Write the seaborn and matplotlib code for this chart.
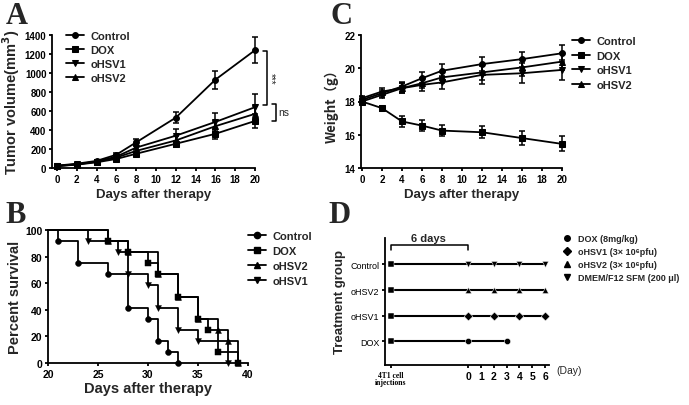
import numpy as np
import pandas as pd
import matplotlib
matplotlib.use('Agg')
import matplotlib.pyplot as plt
from matplotlib.lines import Line2D
import seaborn as sns

# ---- A: tumor volume ----
days = [0, 2, 4, 6, 8, 12, 16, 20]
vol_control = [25, 45, 75, 140, 270, 530, 930, 1240]
vol_dox = [20, 35, 60, 95, 150, 255, 360, 495]
vol_ohsv1 = [22, 40, 68, 120, 215, 340, 485, 640]
vol_ohsv2 = [20, 38, 65, 110, 180, 290, 440, 570]
sem_control = [5, 8, 10, 20, 35, 55, 95, 135]
sem_dox = [5, 6, 8, 12, 20, 30, 50, 75]
sem_ohsv1 = [5, 6, 8, 15, 30, 70, 90, 135]
sem_ohsv2 = [5, 6, 8, 12, 25, 45, 60, 80]

# ---- C: body weight ----
wt_control = [18.1, 18.5, 18.9, 19.4, 19.85, 20.25, 20.55, 20.9]
wt_dox = [18.0, 17.6, 16.8, 16.55, 16.25, 16.15, 15.8, 15.45]
wt_ohsv1 = [18.0, 18.4, 18.8, 19.0, 19.15, 19.6, 19.7, 19.9]
wt_ohsv2 = [18.2, 18.6, 18.8, 19.1, 19.45, 19.75, 20.05, 20.4]
wsem_control = [0.15, 0.2, 0.3, 0.35, 0.4, 0.4, 0.45, 0.5]
wsem_dox = [0.15, 0.15, 0.35, 0.35, 0.35, 0.35, 0.4, 0.45]
wsem_ohsv1 = [0.15, 0.2, 0.3, 0.35, 0.4, 0.55, 0.6, 0.6]
wsem_ohsv2 = [0.15, 0.2, 0.3, 0.3, 0.35, 0.45, 0.5, 0.5]

# ---- B: survival (Kaplan-Meier steps) ----
sd_control = [20, 21, 23, 26, 28, 30, 31, 32, 33]
sv_control = [100, 91.7, 75, 66.7, 41.7, 33.3, 16.7, 8.3, 0]
sd_dox = [20, 26, 28, 30, 31, 33, 35, 36, 37, 39]
sv_dox = [100, 91.7, 83.3, 75, 66.7, 50, 33.3, 25, 8.3, 0]
sd_ohsv2 = [20, 26, 28, 31, 33, 35, 37, 38, 39]
sv_ohsv2 = [100, 91.7, 83.3, 66.7, 50, 33.3, 25, 16.7, 0]
sd_ohsv1 = [20, 24, 27, 28, 30, 31, 33, 35, 38]
sv_ohsv1 = [100, 91.7, 83.3, 66.7, 58.3, 41.7, 25, 16.7, 0]

# ---- D: treatment schedule ----
d_groups = ['DOX', 'oHSV1', 'oHSV2', 'Control']
d_inject = -6
d_end = [3, 6, 6, 6]
d_treat = [[0, 3], [0, 2, 4, 6], [0, 2, 4, 6], [0, 2, 4, 6]]
d_labels = ['DOX (8mg/kg)', 'oHSV1 (3× 10⁶pfu)', 'oHSV2 (3× 10⁶pfu)',
            'DMEM/F12 SFM (200 μl)']

groups = ['Control', 'DOX', 'oHSV1', 'oHSV2']
mk = {'Control': 'o', 'DOX': 's', 'oHSV1': 'v', 'oHSV2': '^'}
d_mk = {'DOX': 'o', 'oHSV1': 'D', 'oHSV2': '^', 'Control': 'v'}

sns.set_theme(style='ticks')
plt.rcParams['font.family'] = ['Liberation Sans', 'DejaVu Sans']
plt.rcParams['font.weight'] = 'bold'
plt.rcParams['axes.labelweight'] = 'bold'
plt.rcParams['axes.linewidth'] = 1.3
for a in ['xtick', 'ytick']:
    plt.rcParams[a + '.major.width'] = 1.3
    plt.rcParams[a + '.major.size'] = 2.5
    plt.rcParams[a + '.major.pad'] = 1.5
    plt.rcParams[a + '.color'] = 'black'
    plt.rcParams[a + '.labelsize'] = 7
plt.rcParams['axes.edgecolor'] = 'black'

W, H = 689, 406
fig = plt.figure(figsize=(W / 100, H / 100), dpi=100)


def px_axes(l, t, r, b):
    return fig.add_axes([l / W, 1 - b / H, (r - l) / W, (b - t) / H])


def growth_panel(ax, vals, sems):
    df = pd.DataFrame({'day': days * 4,
                       'val': sum(vals, []),
                       'group': np.repeat(groups, len(days))})
    sns.lineplot(data=df, x='day', y='val', style='group', markers=mk, dashes=False,
                 color='black', linewidth=1.3, markersize=4.2, markeredgecolor='black',
                 ax=ax, clip_on=False, zorder=3)
    for v, e in zip(vals, sems):
        ax.errorbar(days, v, yerr=e, fmt='none', ecolor='black', elinewidth=1.1,
                    capsize=2.5, capthick=1.1, clip_on=False, zorder=2)
    sns.despine(ax=ax)
    ax.set_xticks(range(0, 21, 2))
    ax.set_xlabel('Days after therapy', fontsize=9.5, labelpad=3)


# Panel A
axA = px_axes(52, 36, 255, 169)
growth_panel(axA, [vol_control, vol_dox, vol_ohsv1, vol_ohsv2],
             [sem_control, sem_dox, sem_ohsv1, sem_ohsv2])
axA.set_xlim(-0.5, 20)
axA.set_ylim(0, 1400)
axA.set_yticks(range(0, 1401, 200))
axA.set_ylabel('Tumor volume(mm$^3$)', fontsize=10.5, labelpad=2)
h, l = axA.get_legend_handles_labels()
axA.legend(h, l, loc='upper left', bbox_to_anchor=(0.07, 1.03), frameon=False,
           fontsize=8, handlelength=1.6, handletextpad=0.6, labelspacing=0.35,
           borderpad=0, borderaxespad=0)
# significance brackets
axA.plot([20.8, 21.2, 21.2, 20.8], [1235, 1235, 660, 660], color='black', lw=1.1, clip_on=False)
axA.text(21.6, 950, '***', rotation=270, ha='center', va='center', fontsize=7, fontweight='normal')
axA.plot([21.75, 22.15, 22.15, 21.75], [675, 675, 495, 495], color='black', lw=1.1, clip_on=False)
axA.text(22.4, 590, 'ns', ha='left', va='center', fontsize=7.5, fontweight='normal')

# Panel C
axC = px_axes(361, 36, 562, 169)
growth_panel(axC, [wt_control, wt_dox, wt_ohsv1, wt_ohsv2],
             [wsem_control, wsem_dox, wsem_ohsv1, wsem_ohsv2])
axC.set_xlim(-0.1, 20)
axC.set_ylim(14, 22)
axC.set_yticks(range(14, 23, 2))
axC.set_ylabel('Weight（g）', fontsize=9.5, labelpad=4,
               family=['Noto Sans CJK SC', 'Liberation Sans'])
h, l = axC.get_legend_handles_labels()
axC.legend(h, l, loc='upper left', bbox_to_anchor=(1.05, 0.99), frameon=False,
           fontsize=8, handlelength=1.6, handletextpad=0.6, labelspacing=0.4,
           borderpad=0, borderaxespad=0)

# Panel B
axB = px_axes(48, 231, 248, 364)
surv = [('Control', sd_control, sv_control), ('DOX', sd_dox, sv_dox),
        ('oHSV2', sd_ohsv2, sv_ohsv2), ('oHSV1', sd_ohsv1, sv_ohsv1)]
for name, sd, sv in surv:
    sns.lineplot(x=sd, y=sv, drawstyle='steps-post', color='black', linewidth=1.3,
                 ax=axB, clip_on=False, estimator=None)
    sns.scatterplot(x=sd[1:], y=sv[1:], marker=mk[name], color='black', s=18,
                    edgecolor='black', ax=axB, clip_on=False, zorder=3)
sns.despine(ax=axB)
axB.set_xlim(20, 40)
axB.set_ylim(0, 100)
axB.set_xticks(range(20, 41, 5))
axB.set_yticks(range(0, 101, 20))
axB.tick_params(labelsize=7.5)
axB.set_xlabel('Days after therapy', fontsize=10.5, labelpad=2)
axB.set_ylabel('Percent survival', fontsize=10.5, labelpad=2)
handlesB = [Line2D([], [], color='black', lw=1.3, marker=mk[n], markersize=4.5)
            for n, _, _ in surv]
axB.legend(handlesB, [n for n, _, _ in surv], loc='upper left', bbox_to_anchor=(1.0, 0.99),
           frameon=False, fontsize=8, handlelength=1.6, handletextpad=0.6,
           labelspacing=0.45, borderpad=0, borderaxespad=0)

# Panel D
axD = px_axes(385, 239, 549, 366)
for i, g in enumerate(d_groups):
    sns.lineplot(x=[d_inject, d_end[i]], y=[i, i], color='black', linewidth=1.5, ax=axD)
    sns.scatterplot(x=[d_inject], y=[i], marker='s', color='black', s=18, ax=axD, zorder=3)
    sns.scatterplot(x=d_treat[i], y=[i] * len(d_treat[i]), marker=d_mk[g], color='black',
                    s=20, ax=axD, zorder=3, clip_on=False)
sns.despine(ax=axD)
axD.set_xlim(-6.47, 6.31)
axD.set_ylim(-0.92, 4.03)
axD.set_yticks(range(len(d_groups)))
axD.set_yticklabels(d_groups, fontsize=6.5, fontweight='normal')
axD.set_xticks([d_inject] + list(range(0, 7)))
axD.set_xticklabels(['4T1 cell\ninjections'] + [str(d) for d in range(7)], fontsize=7.5)
axD.get_xticklabels()[0].set(family='Liberation Serif', fontsize=5.5, linespacing=0.9)
axD.set_ylabel('Treatment group', fontsize=9.5, labelpad=3)
axD.text(6.9, -0.92, '(Day)', ha='left', va='top', fontsize=7.5, fontweight='normal')
axD.plot([-6, -6, 0, 0], [3.55, 3.74, 3.74, 3.55], color='black', lw=1.1, clip_on=False)
axD.text(-3.1, 3.82, '6 days', ha='center', va='bottom', fontsize=8)
handlesD = [Line2D([], [], ls='none', color='black', marker=d_mk[g], markersize=4)
            for g in ['DOX', 'oHSV1', 'oHSV2', 'Control']]
axD.legend(handlesD, d_labels, loc='upper left', bbox_to_anchor=(1.08, 1.03),
           frameon=False, fontsize=6.5, handlelength=1.0, handletextpad=0.8,
           labelspacing=0.45, borderpad=0, borderaxespad=0)

# panel letters
for txt, x, y in [('A', 6, 2), ('C', 331, 2), ('B', 5, 201), ('D', 328, 201)]:
    fig.text(x / W, 1 - y / H, txt, ha='left', va='top', fontsize=22,
             fontweight='bold', family='Liberation Serif')

fig.savefig('out.png', dpi=100)
